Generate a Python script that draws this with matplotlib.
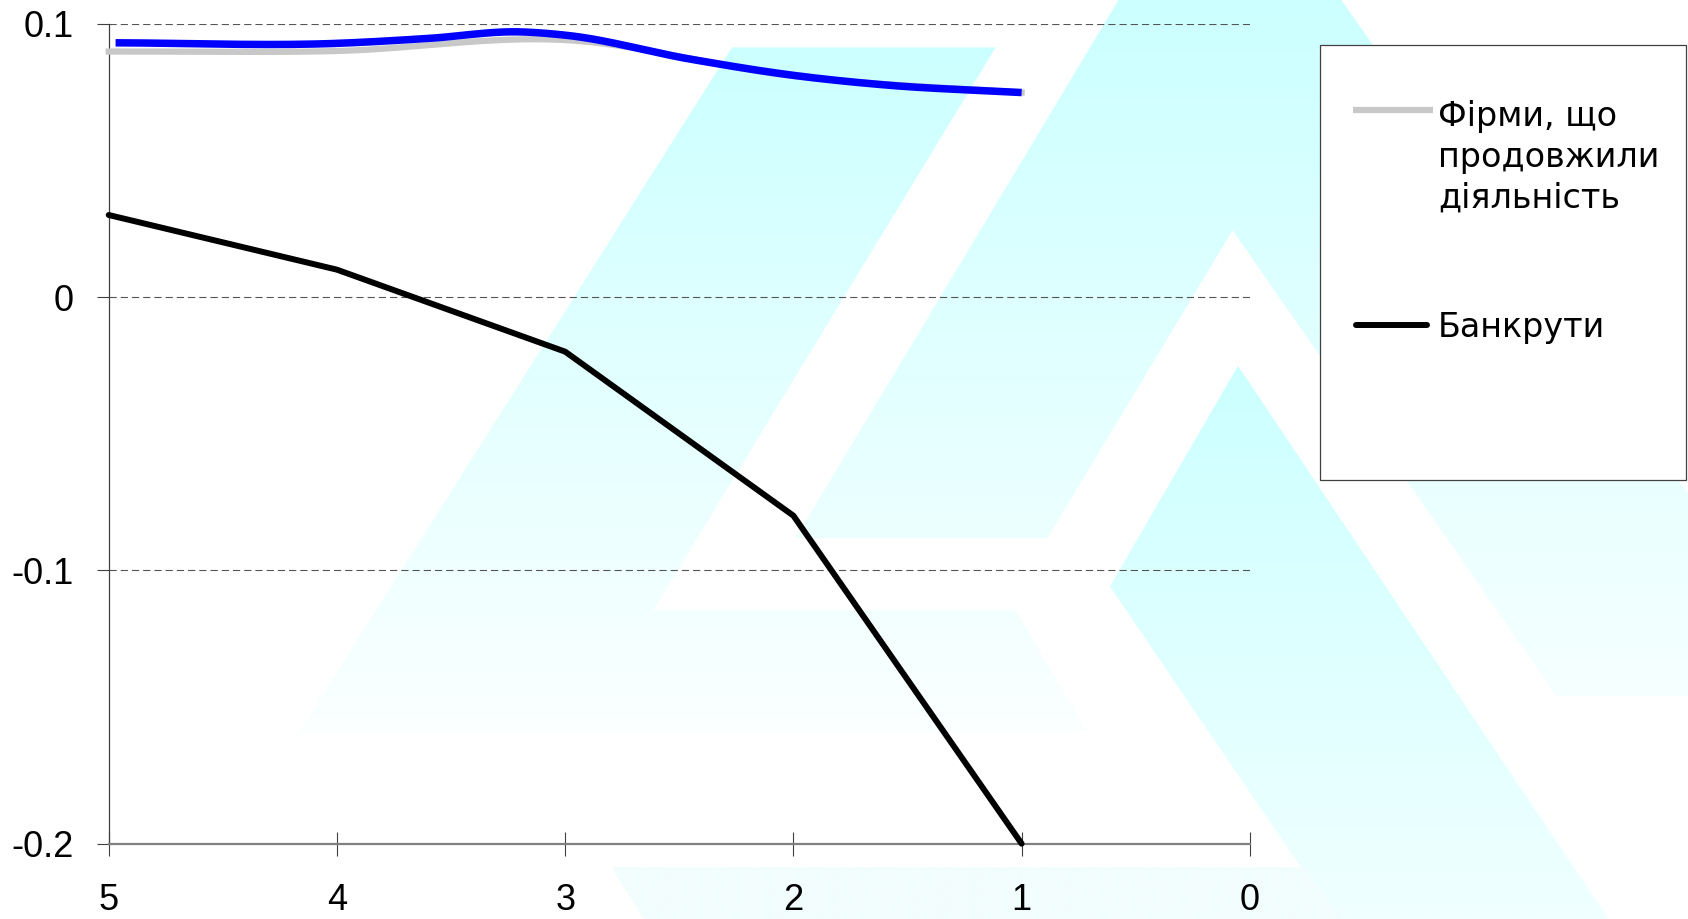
import numpy as np
import matplotlib
matplotlib.use("Agg")
import matplotlib.pyplot as plt
from matplotlib.patches import Polygon, Rectangle
from matplotlib.lines import Line2D

plt.rcParams['font.family'] = ['Liberation Sans', 'DejaVu Sans']
plt.rcParams['axes.unicode_minus'] = False

# years before the event (axis runs 5 -> 0)
years = [5, 4, 3, 2, 1]
survivors = [0.0898, 0.0900, 0.0940, 0.0808, 0.0748]
bankrupts = [0.03, 0.01, -0.02, -0.08, -0.20]
# hand-drawn blue trace laid over the survivors curve
trace_x = [4.97, 4.0, 3.6, 3.2, 3.0, 2.45, 2.0, 1.6, 1.0]
trace_y = [0.0930, 0.0928, 0.0946, 0.0970, 0.0958, 0.0870, 0.0811, 0.0776, 0.0748]

label_survivors = 'Фірми, що\nпродовжили\nдіяльність'
label_bankrupts = 'Банкрути'
yticks = [0.1, 0, -0.1, -0.2]
ytick_labels = ['0.1', '0', '-0.1', '-0.2']
xticks = [5, 4, 3, 2, 1, 0]

GRAY = '#c8c8c8'


def smooth(xs, ys, n=40):
    # cubic Hermite through the points, slopes from finite differences
    x = np.asarray(xs, float)
    y = np.asarray(ys, float)
    m = np.gradient(y, x)
    t = np.linspace(0, 1, n)
    h00 = 2 * t**3 - 3 * t**2 + 1
    h10 = t**3 - 2 * t**2 + t
    h01 = -2 * t**3 + 3 * t**2
    h11 = t**3 - t**2
    xx, yy = [], []
    for i in range(len(x) - 1):
        h = x[i + 1] - x[i]
        xx.append(x[i] + t * h)
        yy.append(h00 * y[i] + h10 * h * m[i] + h01 * y[i + 1] + h11 * h * m[i + 1])
    return np.concatenate(xx), np.concatenate(yy)


fig = plt.figure(figsize=(16.88, 9.19), dpi=100)

# background canvas in page units for the logo and the legend box
bg = fig.add_axes([0, 0, 1, 1], zorder=0)
bg.set_xlim(0, 1568)
bg.set_ylim(854, 0)
bg.axis('off')


def shade(pts, c_top, c_bot):
    pts = np.asarray(pts, float)
    poly = Polygon(pts, closed=True, transform=bg.transData)
    x0, x1 = pts[:, 0].min(), pts[:, 0].max()
    y0, y1 = pts[:, 1].min(), pts[:, 1].max()
    f = np.linspace(0, 1, 256)[:, None]
    top = np.array(matplotlib.colors.to_rgb(c_top))
    bot = np.array(matplotlib.colors.to_rgb(c_bot))
    img = (top[None, None, :] * (1 - f[..., None]) + bot[None, None, :] * f[..., None])
    im = bg.imshow(img, extent=[x0, x1, y1, y0], aspect='auto',
                   interpolation='bilinear', zorder=1)
    im.set_clip_path(poly)


shade([(680, 44), (925, 44), (607, 567), (943, 567), (1010, 680), (278, 680)],
      '#ccffff', '#fbffff')
shade([(1039, 0), (739, 500), (973, 500), (1145, 214), (1446, 647),
       (1700, 647), (1246, 0)], '#ccffff', '#f6ffff')
shade([(1150, 340), (1031, 545), (1241, 854), (1494, 854)], '#ccffff', '#f0ffff')
shade([(568, 806), (1212, 806), (1246, 854), (598, 854)], '#f2fdfd', '#f2fdfd')

# legend box
bg.add_patch(Rectangle((1226, 42), 340, 404, facecolor='white',
                       edgecolor='#404040', lw=0.9, zorder=5))
bg.add_line(Line2D([1257, 1331], [102, 102], color=GRAY, lw=4.5,
                   solid_capstyle='butt', zorder=6))
bg.add_line(Line2D([1260, 1326], [302, 302], color='black', lw=4.3,
                   solid_capstyle='round', zorder=6))
bg.text(1336, 193, label_survivors, fontsize=24, family='DejaVu Sans',
        va='baseline', ha='left', linespacing=1.31, zorder=6)
bg.text(1336, 313, label_bankrupts, fontsize=24, family='DejaVu Sans',
        va='baseline', ha='left', zorder=6)

# chart
ax = fig.add_axes([101 / 1568, 1 - 784 / 854, 1060 / 1568, 762 / 854], zorder=2)
ax.set_facecolor('none')
ax.set_xlim(5, 0)
ax.set_ylim(-0.2, 0.1)

for v in yticks[:-1]:
    ax.axhline(v, color='#555555', lw=0.8, dashes=(6.5, 3.6), zorder=1)

sx, sy = smooth(years, survivors)
ax.plot(sx, sy, color=GRAY, lw=4.5, solid_capstyle='projecting',
        clip_on=False, zorder=3)
tx, ty = smooth(trace_x, trace_y)
ax.plot(tx, ty, color='#0000ff', lw=5.4, solid_capstyle='butt',
        clip_on=False, zorder=4)
ax.plot(years, bankrupts, color='black', lw=4.3, solid_capstyle='round',
        clip_on=False, zorder=4)

ax.set_xticks(xticks)
ax.set_xticklabels([str(v) for v in xticks])
ax.set_yticks(yticks)
ax.set_yticklabels(ytick_labels)

for s in ('top', 'right'):
    ax.spines[s].set_visible(False)
ax.spines['left'].set_color('#404040')
ax.spines['left'].set_linewidth(0.9)
ax.spines['bottom'].set_color('#808080')
ax.spines['bottom'].set_linewidth(1.6)

ax.tick_params(axis='y', direction='out', length=8.6, width=0.8,
               color='#404040', pad=16.5, labelsize=26)
ax.tick_params(axis='x', direction='inout', length=17, width=0.8,
               color='#404040', pad=20, labelsize=26)

fig.savefig('out.png', dpi=100)
